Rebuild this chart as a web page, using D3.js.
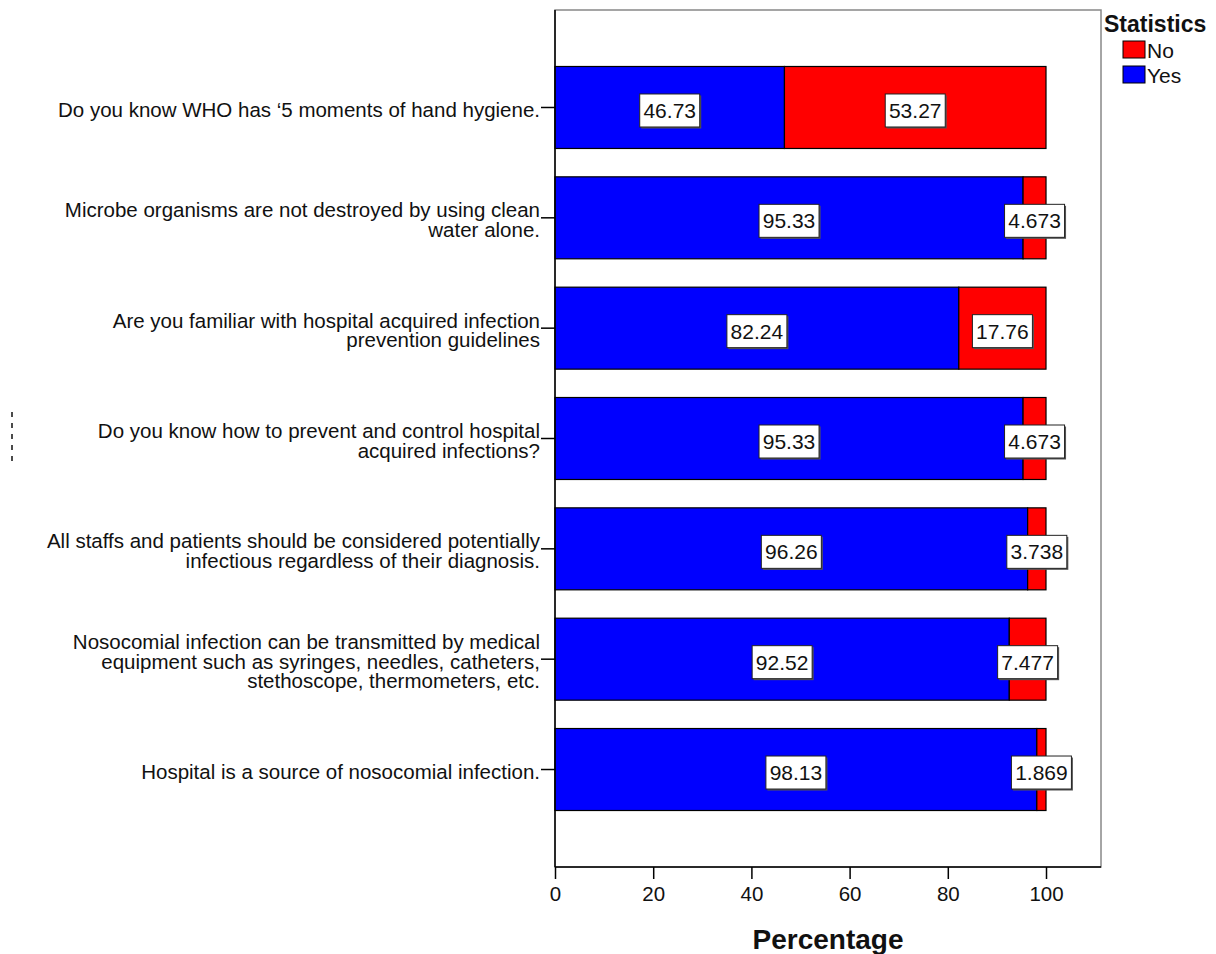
<!DOCTYPE html>
<html><head><meta charset="utf-8">
<script src="https://cdn.jsdelivr.net/npm/d3@7"></script>
<style>body{margin:0;background:#fff;} text{font-family:"Liberation Sans",Arial,sans-serif;}</style>
</head><body>
<svg id="chart" width="1216" height="954"></svg>
<script>
const categories = [
  ["Do you know WHO has \u20185 moments of hand hygiene."],
  ["Microbe organisms are not destroyed by using clean", "water alone."],
  ["Are you familiar with hospital acquired infection", "prevention guidelines"],
  ["Do you know how to prevent and control hospital", "acquired infections?"],
  ["All staffs and patients should be considered potentially", "infectious regardless of their diagnosis."],
  ["Nosocomial infection can be transmitted by medical", "equipment such as syringes, needles, catheters,", "stethoscope, thermometers, etc."],
  ["Hospital is a source of nosocomial infection."]
];
const yesValues = [46.73, 95.33, 82.24, 95.33, 96.26, 92.52, 98.13];
const noValues  = [53.27, 4.673, 17.76, 4.673, 3.738, 7.477, 1.869];
const yesLabels = ["46.73","95.33","82.24","95.33","96.26","92.52","98.13"];
const noLabels  = ["53.27","4.673","17.76","4.673","3.738","7.477","1.869"];
const xTicks = [0, 20, 40, 60, 80, 100];
const legendItems = [{name:"No", color:"#ff0000"}, {name:"Yes", color:"#0000ff"}];

const svg = d3.select("#chart");
const pLeft = 555, pRight = 1101, pTop = 10, pBottom = 867;
const x = d3.scaleLinear().domain([0, 111.2]).range([pLeft, pRight]);
const y = d3.scaleBand().domain(d3.range(categories.length)).range([pTop, pBottom]).paddingInner(0.257).paddingOuter(0.512);

// frame
svg.append("rect").attr("x", pLeft).attr("y", pTop).attr("width", pRight-pLeft).attr("height", pBottom-pTop)
  .attr("fill", "none").attr("stroke", "#888").attr("stroke-width", 1.5);

// bars
const g = svg.append("g");
categories.forEach((c, i) => {
  g.append("rect").attr("x", x(0)).attr("y", y(i)).attr("width", x(yesValues[i]) - x(0)).attr("height", y.bandwidth())
    .attr("fill", "#0000ff").attr("stroke", "#000").attr("stroke-width", 1.2);
  g.append("rect").attr("x", x(yesValues[i])).attr("y", y(i)).attr("width", x(yesValues[i] + noValues[i]) - x(yesValues[i])).attr("height", y.bandwidth())
    .attr("fill", "#ff0000").attr("stroke", "#000").attr("stroke-width", 1.2);
});

// value labels
function valLabel(cx, cy, txt) {
  const w = 60, h = 33;
  svg.append("rect").attr("x", cx - w/2 + 1.5).attr("y", cy - h/2 + 1.5).attr("width", w).attr("height", h).attr("fill", "#555");
  svg.append("rect").attr("x", cx - w/2).attr("y", cy - h/2).attr("width", w).attr("height", h)
    .attr("fill", "#fff").attr("stroke", "#222").attr("stroke-width", 1);
  svg.append("text").attr("x", cx).attr("y", cy).attr("dy", "0.36em").attr("text-anchor", "middle")
    .attr("font-size", 21).attr("fill", "#111").text(txt);
}
categories.forEach((c, i) => {
  const cy = y(i) + y.bandwidth()/2 + 3;
  valLabel((x(0) + x(yesValues[i]))/2, cy, yesLabels[i]);
  valLabel((x(yesValues[i]) + x(yesValues[i] + noValues[i]))/2, cy, noLabels[i]);
});

// y axis
svg.append("line").attr("x1", pLeft).attr("x2", pLeft).attr("y1", pTop).attr("y2", pBottom).attr("stroke", "#000").attr("stroke-width", 1.5);
categories.forEach((lines, i) => {
  const cy = y(i) + y.bandwidth()/2;
  svg.append("line").attr("x1", pLeft - 14).attr("x2", pLeft).attr("y1", cy).attr("y2", cy).attr("stroke", "#000").attr("stroke-width", 1.5);
  const lh = 19.5;
  const t = svg.append("text").attr("text-anchor", "end").attr("font-size", 20.5).attr("fill", "#111");
  lines.forEach((ln, k) => {
    t.append("tspan").attr("x", pLeft - 15).attr("y", cy + 2 + (k - (lines.length - 1)/2) * lh).attr("dy", "0.36em").text(ln);
  });
});

// x axis
const xAxis = d3.axisBottom(x).tickValues(xTicks).tickSize(12).tickPadding(7).tickFormat(d3.format("d"));
const ax = svg.append("g").attr("transform", `translate(0,${pBottom})`).call(xAxis);
ax.select(".domain").attr("stroke", "#000").attr("stroke-width", 1.5).attr("d", `M${pLeft},0H${pRight}`);
ax.selectAll(".tick line").attr("stroke", "#000").attr("stroke-width", 1.5);
ax.selectAll(".tick text").attr("font-size", 20.5).attr("fill", "#111").attr("font-family", "Liberation Sans, Arial, sans-serif");

svg.append("text").attr("x", (pLeft + pRight)/2).attr("y", 949).attr("text-anchor", "middle")
  .attr("font-size", 28).attr("font-weight", "bold").attr("fill", "#111").text("Percentage");

// legend
svg.append("text").attr("x", 1104).attr("y", 32).attr("font-size", 23).attr("font-weight", "bold").attr("fill", "#111").text("Statistics");
legendItems.forEach((d, i) => {
  const ly = 41 + i * 25;
  svg.append("rect").attr("x", 1123).attr("y", ly).attr("width", 22).attr("height", 17).attr("fill", d.color).attr("stroke", "#000").attr("stroke-width", 1);
  svg.append("text").attr("x", 1147).attr("y", ly + 9).attr("dy", "0.36em").attr("font-size", 21).attr("fill", "#111").text(d.name);
});

// small dashed artifact on the left
svg.append("line").attr("x1", 12).attr("x2", 12).attr("y1", 412).attr("y2", 467).attr("stroke", "#111").attr("stroke-width", 1.5).attr("stroke-dasharray", "5,6");
</script>
</body></html>
